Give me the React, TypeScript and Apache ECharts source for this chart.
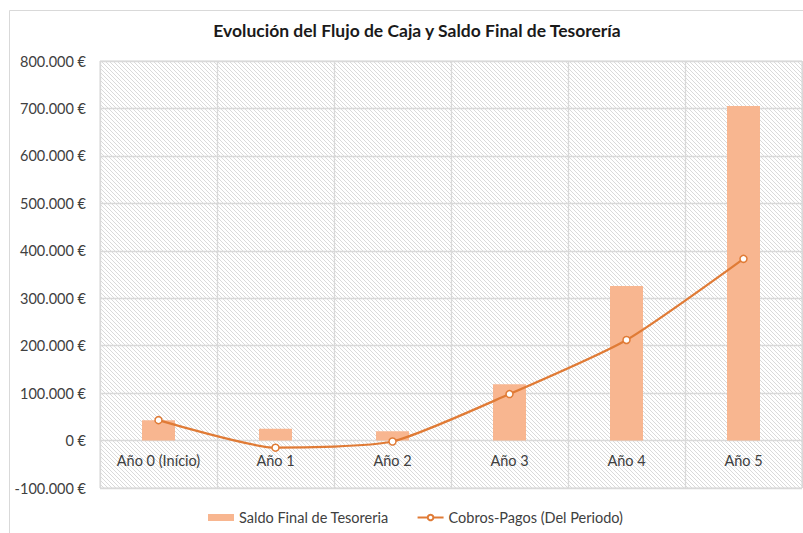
import React, { useEffect, useRef } from "react";
import * as echarts from "echarts";

const categories = ["Año 0 (Início)", "Año 1", "Año 2", "Año 3", "Año 4", "Año 5"];
const saldoFinal = [43000, 25000, 19500, 118500, 326000, 705000];
const cobrosPagos = [43000, -15000, -2000, 98000, 212000, 383000];
const yMin = -100000;
const yMax = 800000;
const yStep = 100000;

const FONT = "Lato, 'Open Sans', sans-serif";
const GRID_TOP = 61;
const GRID_BOTTOM = 45;
const CHART_H = 533;

function makeHatch(): HTMLCanvasElement {
  const c = document.createElement("canvas");
  c.width = 4;
  c.height = 4;
  const ctx = c.getContext("2d")!;
  ctx.fillStyle = "#ffffff";
  ctx.fillRect(0, 0, 4, 4);
  ctx.fillStyle = "#dadada";
  for (let i = 0; i < 4; i++) ctx.fillRect(i, i, 1, 1);
  return c;
}

function fmt(v: number): string {
  const s = Math.abs(v).toString().replace(/\B(?=(\d{3})+(?!\d))/g, ".");
  return (v < 0 ? "-" : "") + s + " €";
}

export default function App() {
  const ref = useRef<HTMLDivElement>(null);
  useEffect(() => {
    if (!ref.current) return;
    const chart = echarts.init(ref.current, undefined, { renderer: "svg" });
    const hatch = makeHatch();
    const gridH = CHART_H - GRID_TOP - GRID_BOTTOM;
    const zeroOffset = -gridH * (0 - yMin) / (yMax - yMin);
    chart.setOption({
      animation: false,
      backgroundColor: "#ffffff",
      textStyle: { fontFamily: FONT },
      title: {
        text: "Evolución del Flujo de Caja y Saldo Final de Tesorería",
        left: 412,
        top: 16,
        textAlign: "center",
        textStyle: { fontFamily: FONT, fontSize: 17.5, fontWeight: "bold", color: "#1a1a1a" },
      },
      graphic: [
        {
          type: "rect",
          shape: { x: 9.5, y: 10.5, width: 900, height: 700 },
          style: { fill: "none", stroke: "#d9d9d9", lineWidth: 1 },
          silent: true,
          z: -10,
        },
      ],
      legend: {
        left: 203,
        top: 505,
        itemGap: 28,
        itemWidth: 26,
        itemHeight: 7,
        textStyle: { fontFamily: FONT, fontSize: 14.5, color: "#404040" },
        data: [
          { name: "Saldo Final de Tesoreria", icon: "rect" },
          { name: "Cobros-Pagos (Del Periodo)" },
        ],
      },
      grid: {
        left: 100,
        right: 1,
        top: GRID_TOP,
        bottom: GRID_BOTTOM,
        show: true,
        borderColor: "#d9d9d9",
        borderWidth: 1,
        backgroundColor: { image: hatch, repeat: "repeat", imageWidth: 4, imageHeight: 4 },
      },
      xAxis: {
        type: "category",
        data: categories,
        offset: zeroOffset,
        axisLine: { onZero: false, lineStyle: { color: "#d9d9d9", width: 1 } },
        axisTick: { show: false },
        axisLabel: { fontFamily: FONT, fontSize: 14.5, color: "#404040", margin: 12 },
        splitLine: { show: true, lineStyle: { color: "#d9d9d9", width: 1.3 } },
      },
      yAxis: {
        type: "value",
        min: yMin,
        max: yMax,
        interval: yStep,
        axisLine: { show: false },
        axisTick: { show: false },
        axisLabel: {
          fontFamily: FONT,
          fontSize: 14.5,
          color: "#404040",
          margin: 14,
          formatter: (v: number) => fmt(v),
        },
        splitLine: { show: true, lineStyle: { color: "#d9d9d9", width: 1.3 } },
      },
      series: [
        {
          name: "Saldo Final de Tesoreria",
          type: "bar",
          data: saldoFinal,
          barWidth: 33,
          itemStyle: { color: "#F8B690" },
        },
        {
          name: "Cobros-Pagos (Del Periodo)",
          type: "line",
          data: cobrosPagos,
          smooth: 0.2,
          symbol: "circle",
          symbolSize: 7,
          lineStyle: { color: "#E07B36", width: 2.25 },
          itemStyle: { color: "#ffffff", borderColor: "#E07B36", borderWidth: 1.5 },
        },
      ],
    });
    return () => chart.dispose();
  }, []);
  return (
    <div
      ref={ref}
      style={{ position: "fixed", left: 0, top: 0, width: 803, height: 533 }}
    />
  );
}
